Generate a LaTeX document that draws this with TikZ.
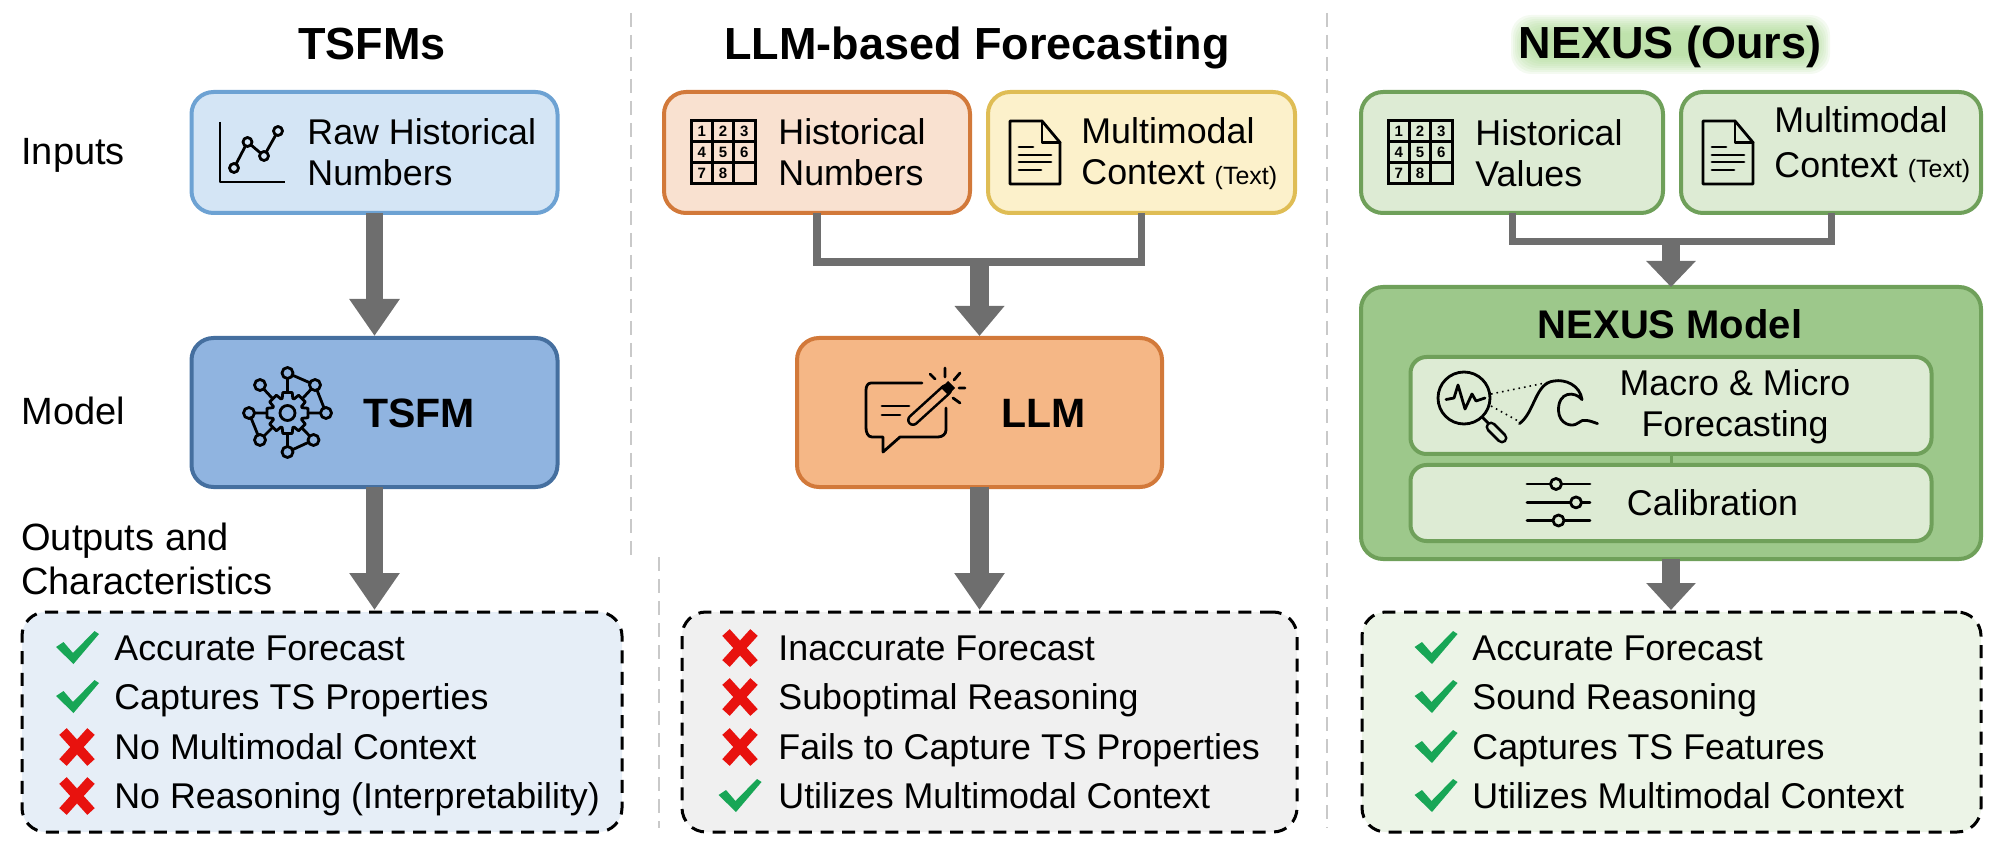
\documentclass[tikz,border=0pt]{standalone}
\usepackage{fontspec}
\setmainfont{Liberation Sans}
\usetikzlibrary{arrows.meta,positioning}

\definecolor{bluelite}{HTML}{D4E5F5}
\definecolor{blueedge}{HTML}{6DA2D3}
\definecolor{bluefull}{HTML}{90B4E0}
\definecolor{bluedark}{HTML}{456F9F}
\definecolor{bluepale}{HTML}{E6EEF7}
\definecolor{orlite}{HTML}{F9E1D0}
\definecolor{oredge}{HTML}{D2793A}
\definecolor{orfull}{HTML}{F5B786}
\definecolor{yelite}{HTML}{FCF1CB}
\definecolor{yeedge}{HTML}{DFBD55}
\definecolor{grlite}{HTML}{DDEBD4}
\definecolor{gredge}{HTML}{6FA05A}
\definecolor{grfull}{HTML}{9DC88B}
\definecolor{grpale}{HTML}{ECF4E7}
\definecolor{grglow}{HTML}{A9D890}
\definecolor{greypale}{HTML}{F0F0F0}
\definecolor{pilgrey}{HTML}{6E6E6E}
\definecolor{sepgrey}{HTML}{C9C9C9}
\definecolor{okgreen}{HTML}{18A656}
\definecolor{nored}{HTML}{E8120E}

\newcommand{\smalltxtfont}{\fontsize{12.5}{14}\selectfont}

\tikzset{
	iconline/.style={draw=black, line width=1.4pt, line join=round, line cap=round},
	gridnum/.style={font=\fontsize{7.5}{8}\selectfont\bfseries, inner sep=0pt},
	gridicon/.pic={
		\draw[iconline, line width=1.5pt, line join=miter] (-32,-31.5) rectangle (32,31.5);
		\draw[iconline, line width=1.5pt, line cap=butt] (-10.7,-31.5) -- (-10.7,31.5) (10.7,-31.5) -- (10.7,31.5) (-32,-10.5) -- (32,-10.5) (-32,10.5) -- (32,10.5);
		\node[gridnum] (n1) at (-21.3,-21) {1};
		\node[gridnum] (n2) at (0,-21) {2};
		\node[gridnum] (n3) at (21.3,-21) {3};
		\node[gridnum] (n4) at (-21.3,0) {4};
		\node[gridnum] (n5) at (0,0) {5};
		\node[gridnum] (n6) at (21.3,0) {6};
		\node[gridnum] (n7) at (-21.3,21) {7};
		\node[gridnum] (n8) at (0,21) {8};
	},
	docicon/.pic={
		\draw[iconline] (-25,-31.5) -- (7,-31.5) -- (25,-10) -- (25,31.5) -- (-25,31.5) -- cycle;
		\draw[iconline] (7,-31.5) -- (7,-10) -- (25,-10);
		\draw[iconline] (-16,-5.5) -- (-2,-5.5) (-16,2.5) -- (16,2.5) (-16,9.5) -- (16,9.5) (-16,17.5) -- (6,17.5);
	},
	yesmark/.pic={
		\fill[okgreen] (-21.5,-1) -- (-14,-6) -- (-4.5,5) -- (17,-17) -- (21.5,-14) -- (-4,16) -- cycle;
	},
	nomark/.pic={
		\draw[nored, line width=5pt] (-14,-15.5) -- (14,15.5) (14,-15.5) -- (-14,15.5);
	}
}

\begin{document}
\begin{tikzpicture}[x=0.5pt, y=-0.5pt,
	ibox/.style={rectangle, rounded corners=11pt, line width=2pt, outer sep=0pt},
	outbox/.style={rectangle, rounded corners=12pt, draw=black, line width=1.5pt, dash pattern=on 6.5pt off 4.3pt, outer sep=0pt, minimum width=300pt, minimum height=110pt},
	inbox/.style={rectangle, rounded corners=8pt, draw=gredge, fill=grlite, line width=2pt, outer sep=0pt, minimum width=260.5pt},
	heading/.style={font=\fontsize{22.5}{26}\selectfont\bfseries, inner sep=0pt, text height=16.2pt, text depth=0pt},
	sidetxt/.style={font=\fontsize{19}{22}\selectfont, anchor=west, align=left, inner sep=0pt},
	boxtxt/.style={font=\fontsize{17.9}{20.5}\selectfont, anchor=west, align=left, inner sep=0pt},
	rowtxt/.style={font=\fontsize{17.9}{20.5}\selectfont, anchor=west, inner sep=0pt, text height=12.8pt, text depth=0pt},
	sep/.style={draw=sepgrey, line width=1.25pt, dash pattern=on 7pt off 4pt},
	pil/.style={draw=pilgrey, line width=8.7pt, shorten >=1pt, -{Triangle[length=#1, width=24pt]}},
	pil/.default=18.5pt,
	fork/.style={draw=pilgrey, line width=3.7pt, line join=miter}]
	\useasboundingbox (0,0) rectangle (2000,849);

	% separators
	\coordinate (sepa) at (631,13);
	\coordinate (sepb) at (631,557);
	\coordinate (sepc) at (659,557);
	\coordinate (sepd) at (659,828);
	\coordinate (sepe) at (1327,13);
	\coordinate (sepf) at (1327,828);
	\draw[sep] (sepa) -- (sepb);
	\draw[sep] (sepc) -- (sepd);
	\draw[sep] (sepe) -- (sepf);

	% row labels
	\node[sidetxt] (inputs) at (21,155) {Inputs};
	\node[sidetxt] (model) at (21,411) {Model};
	\node[sidetxt] (outchar) at (21,559) {Outputs and\\Characteristics};

	% TSFMs
	\node[heading] (tsfmhead) at (372,43) {TSFMs};
	\node[ibox, draw=blueedge, fill=bluelite, minimum width=183pt, minimum height=60.5pt] (raw) at (374.5,152.5) {};
	\node[ibox, draw=bluedark, fill=bluefull, minimum width=183pt, minimum height=74.5pt, below=62.5pt of raw] (tsfm) {};
	\node[outbox, fill=bluepale] (outa) at (322,722) {};
	\draw[pil] (raw) -- (tsfm);
	\draw[pil] (tsfm) -- (tsfm.south |- outa.north);
	\draw[iconline, line cap=butt] (220,122) -- (220,182) -- (285,182);
	\draw[iconline] (234,168) -- (247.5,142) -- (264,156) -- (278,131);
	\draw[iconline, fill=bluelite] (234,168) circle (4.5);
	\draw[iconline, fill=bluelite] (247.5,142) circle (4.5);
	\draw[iconline, fill=bluelite] (264,156) circle (4.5);
	\draw[iconline, fill=bluelite] (278,131) circle (4.5);
	\node[boxtxt] (rawtxt) at (307,152.5) {Raw Historical\\Numbers};
	% gear with its ring of dots
	\draw[iconline, shift={(287.5,413)}] (-13:21) \foreach \a in {0,45,...,315} { -- (\a-13:21) -- (\a+13:21) -- (\a+20:15.5) -- (\a+25:15.5)} -- cycle;
	\draw[iconline] (287.5,413) circle (7.5);
	\draw[iconline] (287.5,373) -- (315,385) -- (326,413) -- (308,413);
	\draw[iconline] (287.5,373) -- (287.5,392) (260,385) -- (272,398) (315,385) -- (303,398);
	\draw[iconline] (249,413) -- (266,413) (249,413) -- (260,440) -- (272,428);
	\draw[iconline] (287.5,452) -- (313.5,440) -- (302,428) (287.5,452) -- (287.5,434);
	\draw[iconline, fill=bluefull] (287.5,373) circle (5.5);
	\draw[iconline, fill=bluefull] (315,385) circle (5.5);
	\draw[iconline, fill=bluefull] (326,413) circle (5.5);
	\draw[iconline, fill=bluefull] (313.5,440) circle (5.5);
	\draw[iconline, fill=bluefull] (287.5,452) circle (5.5);
	\draw[iconline, fill=bluefull] (260,440) circle (5.5);
	\draw[iconline, fill=bluefull] (249,413) circle (5.5);
	\draw[iconline, fill=bluefull] (260,385) circle (5.5);
	\node[boxtxt, font=\fontsize{20.5}{24}\selectfont\bfseries] (tsfmtxt) at (363,413) {TSFM};
	\pic at (77.5,648) {yesmark};
	\node[rowtxt] (a1) at (114,648) {Accurate Forecast};
	\pic at (77.5,697) {yesmark};
	\node[rowtxt] (a2) at (114,697) {Captures TS Properties};
	\pic at (77,747) {nomark};
	\node[rowtxt] (a3) at (114,747) {No Multimodal Context};
	\pic at (77,796) {nomark};
	\node[rowtxt] (a4) at (114,796) {No Reasoning (Interpretability)};

	% LLM-based Forecasting
	\node[heading] (llmhead) at (977,43) {LLM-based Forecasting};
	\node[ibox, draw=oredge, fill=orlite, minimum width=153pt, minimum height=60.5pt] (histb) at (817,152.5) {};
	\node[ibox, draw=yeedge, fill=yelite, minimum width=153.5pt, minimum height=60.5pt, right=9pt of histb] (ctxb) {};
	\node[ibox, draw=oredge, fill=orfull, minimum width=182.5pt, minimum height=74.5pt] (llm) at (979.5,412.5) {};
	\node[outbox, fill=greypale, minimum width=307.5pt] (outb) at (989.5,722) {};
	\coordinate (mergeb) at (979.5,262);
	\draw[fork] (histb.south) |- (mergeb) -| (ctxb.south);
	\draw[pil=15pt, line width=9.5pt] (mergeb) -- (llm);
	\draw[pil, line width=9.5pt] (llm) -- (llm.south |- outb.north);
	\pic at (723,152.5) {gridicon};
	\node[boxtxt] (histbtxt) at (778,152.5) {Historical\\Numbers};
	\pic at (1035,152.5) {docicon};
	\node[boxtxt] (ctxbtxt) at (1081,154) {Multimodal\\Context {\smalltxtfont(Text)}};
	% bubble and wand
	\draw[iconline] (922,383) -- (874,383) -- (871,383) to[out=180, in=90] (866,390) -- (866,428) to[out=-90, in=180] (872,437) -- (883,437) -- (883,452) -- (900,437) -- (938,437) to[out=0, in=-90] (946,430) -- (946,408);
	\draw[iconline] (882,406) -- (909,406) (882,415) -- (900,415);
	\draw[line width=6pt, line cap=round, draw=black] (913,420) -- (946,390);
	\draw[line width=3.4pt, line cap=round, draw=orfull] (913,420) -- (946,390);
	\fill[black] (948,381) -- (955,388) -- (948,395) -- (941,388) -- cycle;
	\draw[iconline] (945,368) -- (945,377) (960,373) -- (954,380) (959,388) -- (965,388) (953,398) -- (960,403) (930,374) -- (935,379);
	\node[boxtxt, font=\fontsize{20.5}{24}\selectfont\bfseries] (llmtxt) at (1001,413) {LLM};
	\pic at (740,648) {nomark};
	\node[rowtxt] (b1) at (778,648) {Inaccurate Forecast};
	\pic at (740,697) {nomark};
	\node[rowtxt] (b2) at (778,697) {Suboptimal Reasoning};
	\pic at (740,747) {nomark};
	\node[rowtxt] (b3) at (778,747) {Fails to Capture TS Properties};
	\pic at (740,796) {yesmark};
	\node[rowtxt] (b4) at (778,796) {Utilizes Multimodal Context};

	% NEXUS (Ours)
	\foreach \g in {0,...,9}
		\fill[grglow, opacity=0.13, rounded corners=10pt] ({1511+2*\g},{15+2*\g}) rectangle ({1830-2*\g},{74-2*\g});
	\node[heading] (nexhead) at (1670,42.5) {NEXUS (Ours)};
	\node[ibox, draw=gredge, fill=grlite, minimum width=151pt, minimum height=60.5pt] (histc) at (1512,152.5) {};
	\node[ibox, draw=gredge, fill=grlite, minimum width=150pt, minimum height=60.5pt, right=9pt of histc] (ctxc) {};
	\node[ibox, draw=gredge, fill=grfull, minimum width=310pt, minimum height=136pt] (nex) at (1671,423) {};
	\node[inbox, minimum height=48.5pt] (macro) at (1671,405.5) {};
	\node[inbox, minimum height=38pt, below=5.5pt of macro] (calib) {};
	\node[outbox, fill=grpale, minimum width=309.5pt] (outc) at (1671.5,722) {};
	\coordinate (mergec) at (1671,241.5);
	\draw[fork, line width=3.5pt] (histc.south) |- (mergec) -| (ctxc.south);
	\draw[pil=13pt, line width=9.2pt, shorten >=0pt] (mergec) -- (nex);
	\draw[pil=13.5pt, line width=9.2pt] (nex) -- (nex.south |- outc.north);
	\draw[draw=gredge, line width=1.5pt] (macro) -- (calib);
	\pic at (1420,152.5) {gridicon};
	\node[boxtxt] (histctxt) at (1475,153) {Historical\\Values};
	\pic at (1728,152.5) {docicon};
	\node[boxtxt] (ctxctxt) at (1774,145) {Multimodal\\[2pt]Context {\smalltxtfont(Text)}};
	\node[heading, font=\fontsize{20}{24}\selectfont\bfseries, text height=14.4pt] (nexname) at (1670,324) {NEXUS Model};
	% lens and wave
	\draw[iconline] (1464,398) circle (26);
	\draw[iconline] (1446,399.5) -- (1454,398) -- (1458,385) -- (1465,409) -- (1472,394) -- (1476,401) -- (1485,398);
	\draw[iconline] (1482,417) -- (1488,423);
	\draw[iconline, line width=5.5pt] (1491,427) -- (1502,438);
	\draw[draw=grlite, line width=2.8pt, line cap=round] (1491,427) -- (1502,438);
	\draw[black, line width=0.8pt, dotted] (1491,394) -- (1550,382) (1491,406) -- (1520,422);
	\draw[iconline] (1519.5,423.6) .. controls (1535,412) and (1535,383) .. (1554,381) .. controls (1565,379) and (1580,385) .. (1582,399.6) .. controls (1575,391) and (1558,391) .. (1558.5,410.7) .. controls (1559,424) and (1572,428) .. (1578,423) .. controls (1583,418) and (1590,421) .. (1597.5,423.6);
	\node[boxtxt, anchor=center, align=center] (macrotxt) at (1735,407) {Macro \& Micro\\Forecasting};
	\draw[iconline] (1527,484) -- (1590,484) (1527,502.4) -- (1590,502.4) (1527,520.5) -- (1590,520.5);
	\draw[iconline, fill=grlite] (1556,484) circle (5.5);
	\draw[iconline, fill=grlite] (1576,502.4) circle (5.5);
	\draw[iconline, fill=grlite] (1558.5,520.5) circle (5.5);
	\node[boxtxt, anchor=center] (calibtxt) at (1712.5,503) {Calibration};
	\pic at (1436,648) {yesmark};
	\node[rowtxt] (c1) at (1472,648) {Accurate Forecast};
	\pic at (1436,697) {yesmark};
	\node[rowtxt] (c2) at (1472,697) {Sound Reasoning};
	\pic at (1436,747) {yesmark};
	\node[rowtxt] (c3) at (1472,747) {Captures TS Features};
	\pic at (1436,796) {yesmark};
	\node[rowtxt] (c4) at (1472,796) {Utilizes Multimodal Context};
\end{tikzpicture}
\end{document}
